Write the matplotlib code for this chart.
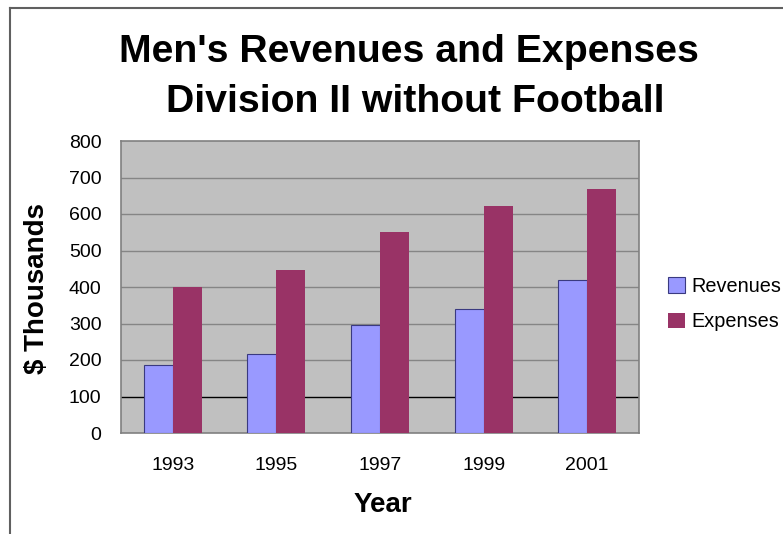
import matplotlib
matplotlib.use("Agg")
import matplotlib.pyplot as plt
import numpy as np
from matplotlib.lines import Line2D

years = ["1993", "1995", "1997", "1999", "2001"]
revenues = [185, 217, 295, 340, 420]
expenses = [400, 447, 551, 622, 668]
yticks = [0, 100, 200, 300, 400, 500, 600, 700, 800]

plt.rcParams['font.family'] = ['Liberation Sans', 'DejaVu Sans']

W, H = 783, 534
fig = plt.figure(figsize=(W / 100, H / 100), dpi=100)
fig.patch.set_facecolor('white')

def fx(px):
    return px / W

def fy(py):
    return 1 - py / H

ax = fig.add_axes([fx(121), fy(433), (639 - 121) / W, (433 - 141) / H])
ax.set_facecolor('#C0C0C0')

x = np.arange(len(years))
bw = 0.28
ax.bar(x - bw / 2, revenues, bw, color='#9999FF', edgecolor='#3a3a80', linewidth=0.8,
       label='Revenues', zorder=3)
ax.bar(x + bw / 2, expenses, bw, color='#993366', edgecolor='none', linewidth=0,
       label='Expenses', zorder=3)

ax.set_xlim(-0.5, len(years) - 0.5)
ax.set_ylim(0, 800)
ax.set_yticks(yticks)
ax.set_yticklabels([str(v) for v in yticks])
ax.set_xticks(x)
ax.set_xticklabels(years)
ax.tick_params(axis='both', length=0, labelsize=14, colors='black')
ax.tick_params(axis='y', pad=14)
ax.tick_params(axis='x', pad=17)

for v in yticks[1:-1]:
    ax.axhline(v, color='black' if v == 100 else '#858585', linewidth=1.0, zorder=1)

for s in ax.spines.values():
    s.set_color('#808080')
    s.set_linewidth(1.2)

# Titles and labels
fig.text(fx(409), fy(62), "Men's Revenues and Expenses", ha='center', va='baseline',
         fontsize=28.3, fontweight='bold')
fig.text(fx(415), fy(112), "Division II without Football", ha='center', va='baseline',
         fontsize=28.3, fontweight='bold')
fig.text(fx(37), fy(288), "$ Thousands", rotation=90, ha='center', va='center',
         fontsize=20, fontweight='bold')
fig.text(fx(383), fy(505), "Year", ha='center', va='center', fontsize=20, fontweight='bold')

leg = fig.legend(loc='center left', bbox_to_anchor=(fx(668), fy(304)),
                 frameon=False, fontsize=14.3, handlelength=0.85, handleheight=0.85,
                 handletextpad=0.35, labelspacing=0.85, borderpad=0, borderaxespad=0)

# outer frame (top and left)
fig.add_artist(Line2D([fx(10), fx(10)], [fy(8), 0], color='#606060', linewidth=1.5,
                      transform=fig.transFigure))
fig.add_artist(Line2D([fx(10), 1], [fy(8), fy(8)], color='#606060', linewidth=1.5,
                      transform=fig.transFigure))

fig.savefig('out.png', dpi=100)
